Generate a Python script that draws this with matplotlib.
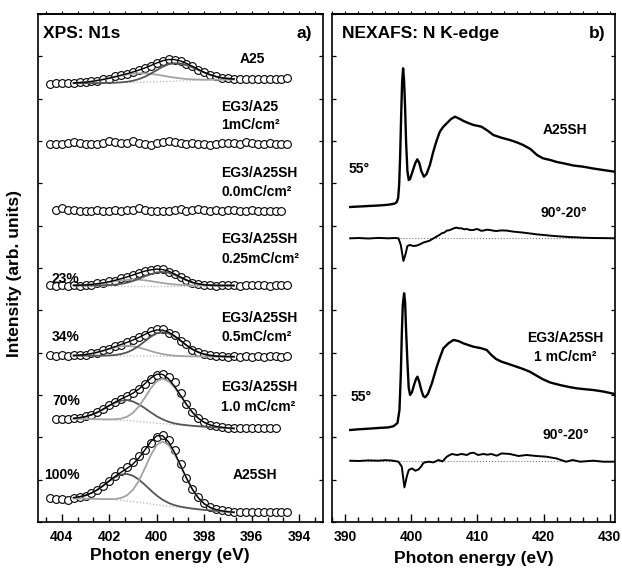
import numpy as np
import matplotlib
matplotlib.use("Agg")
import matplotlib.pyplot as plt
from matplotlib.ticker import MultipleLocator, AutoMinorLocator, NullFormatter

plt.rcParams["font.family"] = ["Liberation Sans", "DejaVu Sans"]
plt.rcParams["font.weight"] = "bold"
plt.rcParams["axes.labelweight"] = "bold"

# ---------------- XPS N1s (panel a) ----------------
# binding energies of the measured points and of the fit window (eV)
E_XPS = [404.5, 404.25, 404.0, 403.75, 403.5, 403.25, 403.0, 402.75, 402.5, 402.25,
         402.0, 401.75, 401.5, 401.25, 401.0, 400.75, 400.5, 400.25, 400.0, 399.75,
         399.5, 399.25, 399.0, 398.75, 398.5, 398.25, 398.0, 397.75, 397.5, 397.25,
         397.0, 396.75, 396.5, 396.25, 396.0, 395.75, 395.5, 395.25, 395.0, 394.75,
         394.5]
E_FIT = [403.5, 403.25, 403.0, 402.75, 402.5, 402.25, 402.0, 401.75, 401.5, 401.25,
         401.0, 400.75, 400.5, 400.25, 400.0, 399.75, 399.5, 399.25, 399.0, 398.75,
         398.5, 398.25, 398.0, 397.75, 397.5, 397.25, 397.0, 396.75]
nan = float("nan")

# measured intensities (arb. units, relative to each trace's baseline)
a25_pts = [-0.3, 0.2, 0.0, 0.5, 0.3, 1.0, 1.1, 2.2, 2.6, 4.2, 4.8, 6.9, 8.4, 9.3, 11.8,
           13.0, 15.8, 17.5, 20.6, 22.2, 24.2, 23.5, 22.8, 19.6, 17.4, 13.6, 11.3, 8.4,
           6.9, 5.2, 4.9, 4.1, 4.6, 3.9, 4.4, 4.0, 4.5, 4.1, 4.3, 4.8, 5.2]
eg3_a25_1_pts = [0.0, 0.5, -0.3, 0.8, 2.5, 0.6, -0.2, 0.4, 0.0, 1.0, 2.8, 2.2, 1.5, 0.6,
                 2.6, 1.2, 0.4, -0.6, 0.8, 2.0, 3.0, 1.6, 1.0, 0.2, 0.8, -0.4, 0.2, -1.0,
                 -0.2, 0.6, 1.5, 0.8, 0.3, 1.8, 1.0, 0.4, 0.0, 0.6, 0.2, -0.2, 0.4]
sh_00_pts = [nan, 0.6, 2.4, 1.0, 0.3, 0.0, 0.2, -0.2, 0.4, 0.1, 0.0, 0.5, -0.3, 0.3, 0.8,
             2.6, 0.5, -0.5, 0.2, -0.3, 0.0, 0.6, 2.2, -0.2, 0.5, 1.6, 0.3, 0.0, 0.4,
             -0.3, 0.6, 1.2, 0.2, -0.4, 0.3, 0.1, -0.5, -0.2, 0.0, 0.2, nan]
sh_025_pts = [0.3, -0.3, 0.6, -0.5, 0.2, -0.4, 1.0, 0.8, 2.2, 2.4, 4.2, 5.0, 7.2, 8.4,
              10.9, 12.3, 14.8, 15.5, 16.8, 16.2, 14.0, 12.0, 8.2, 5.8, 2.8, 1.9, 0.4,
              0.8, -0.2, 0.5, 0.1, 0.6, -0.2, 0.4, 1.0, 0.2, 0.7, -0.1, 0.5, 0.9, 0.4]
sh_05_pts = [1.5, 0.8, 1.2, 0.6, 1.4, 1.9, 2.0, 3.4, 4.0, 6.5, 7.6, 10.6, 12.0, 14.8, 16.2,
             19.8, 22.0, 25.5, 27.5, 28.0, 24.0, 21.5, 15.8, 12.2, 7.0, 5.0, 2.2, 1.6,
             0.3, 0.8, -0.2, 0.4, -0.3, 0.5, 0.0, 0.6, -0.2, 0.3, 0.7, 0.1, 0.5]
sh_10_pts = [nan, 9.2, 9.8, 9.4, 10.0, 10.9, 12.3, 13.9, 16.4, 19.8, 23.3, 26.8, 29.8,
             32.5, 35.6, 39.5, 44.5, 49.5, 53.0, 54.0, 51.5, 46.0, 35.0, 24.5, 16.2,
             10.4, 6.0, 3.6, 2.0, 1.2, 0.5, 0.2, 0.6, 0.0, 0.8, 0.3, 0.1, 0.5, 0.2, nan, nan]
a25sh_pts = [14.2, 13.8, 13.2, 12.4, 14.0, 15.2, 16.8, 19.0, 22.2, 26.5, 31.2, 36.4, 41.0,
             45.6, 50.8, 56.0, 62.0, 69.0, 75.0, 77.5, 72.0, 62.0, 48.5, 34.5, 23.0, 15.5,
             9.5, 5.8, 3.5, 2.0, 1.2, 0.5, 0.8, 0.3, 0.6, 0.2, 0.5, 0.0, 0.4, 0.2, 0.5]

# fit: background, high-BE component, low-BE component (on E_FIT)
a25_bg = [0.0, 0.05, 0.1, 0.15, 0.2, 0.3, 0.4, 0.5, 0.6, 0.7, 0.85, 1.0, 1.15, 1.3, 1.5,
          1.7, 1.9, 2.1, 2.35, 2.6, 2.85, 3.05, 3.25, 3.4, 3.55, 3.65, 3.75, 3.8]
a25_hi = [0.4, 0.7, 1.1, 1.7, 2.6, 3.6, 4.7, 6.0, 7.1, 8.1, 8.8, 9.0, 8.8, 8.1, 7.1, 6.0,
          4.7, 3.6, 2.6, 1.7, 1.1, 0.7, 0.4, 0.2, 0.1, 0.0, 0.0, 0.0]
a25_lo = [0, 0, 0, 0, 0, 0, 0.05, 0.1, 0.4, 0.8, 1.7, 3.2, 5.4, 8.4, 11.7, 14.9, 17.2,
          18.0, 17.4, 15.6, 13.1, 10.2, 7.4, 5.0, 3.1, 1.8, 1.0, 0.5]
sh_025_bg = [0.0] * 28
sh_025_hi = [0.17, 0.33, 0.6, 1.04, 1.65, 2.45, 3.4, 4.35, 5.2, 5.8, 6.0, 5.8, 5.2, 4.35,
             3.4, 2.45, 1.65, 1.04, 0.6, 0.33, 0.17, 0.08, 0.04, 0, 0, 0, 0, 0]
sh_025_lo = [0, 0, 0, 0, 0.1, 0.2, 0.4, 0.9, 1.6, 2.8, 4.5, 6.75, 9.2, 11.3, 13.0, 13.5,
             12.7, 10.6, 7.9, 5.2, 3.0, 1.6, 0.7, 0.3, 0.1, 0, 0, 0]
sh_05_bg = [1.0, 1.0, 1.0, 1.0, 0.95, 0.94, 0.92, 0.89, 0.85, 0.81, 0.76, 0.71, 0.66, 0.6,
            0.55, 0.49, 0.44, 0.39, 0.35, 0.31, 0.27, 0.22, 0.18, 0.15, 0.11, 0.08, 0.04, 0.01]
sh_05_hi = [0.3, 0.6, 1.2, 2.1, 3.4, 5.0, 6.8, 8.4, 9.6, 10.0, 9.6, 8.4, 6.8, 5.0, 3.4,
            2.1, 1.2, 0.6, 0.3, 0.1, 0, 0, 0, 0, 0, 0, 0, 0]
sh_05_lo = [0, 0, 0, 0, 0.1, 0.1, 0.3, 0.8, 1.8, 3.5, 6.3, 10.2, 14.8, 19.4, 22.8, 24.0,
            22.9, 19.8, 15.6, 11.1, 7.2, 4.3, 2.3, 1.1, 0.5, 0.2, 0.1, 0.0]
sh_10_bg = [9.5, 9.5, 9.45, 9.4, 9.25, 9.1, 8.9, 8.6, 8.3, 7.9, 7.4, 6.9, 6.4, 5.8, 5.3,
            4.8, 4.3, 3.8, 3.4, 3.0, 2.6, 2.2, 1.8, 1.4, 1.1, 0.7, 0.4, 0.1]
sh_10_hi = [0.6, 1.3, 2.4, 4.3, 6.9, 10.3, 13.9, 17.2, 19.6, 20.5, 19.6, 17.2, 13.9, 10.3,
            6.9, 4.3, 2.4, 1.3, 0.6, 0.3, 0.1, 0, 0, 0, 0, 0, 0, 0]
sh_10_lo = [0, 0, 0, 0, 0, 0, 0.2, 0.6, 1.6, 3.9, 8.3, 15.3, 24.5, 34.3, 42.1, 45.0, 42.9,
            37.1, 29.2, 20.9, 13.6, 8.0, 4.3, 2.1, 0.9, 0.4, 0.1, 0]
a25sh_bg = [14.0, 14.0, 13.9, 13.8, 13.6, 13.4, 13.1, 12.7, 12.2, 11.6, 10.9, 10.2, 9.4,
            8.6, 7.8, 7.0, 6.3, 5.6, 5.0, 4.4, 3.8, 3.2, 2.6, 2.1, 1.6, 1.1, 0.6, 0.2]
a25sh_hi = [0.8, 1.7, 3.2, 5.7, 9.1, 13.5, 18.3, 22.7, 25.8, 27.0, 25.8, 22.7, 18.3, 13.5,
            9.1, 5.7, 3.2, 1.7, 0.8, 0.4, 0.1, 0, 0, 0, 0, 0, 0, 0]
a25sh_lo = [0, 0, 0, 0, 0, 0, 0.3, 0.8, 2.3, 5.6, 11.8, 21.7, 34.8, 48.8, 59.8, 64.0,
            61.0, 52.8, 41.5, 29.7, 19.3, 11.4, 6.1, 2.9, 1.3, 0.5, 0.2, 0]

# ---------------- NEXAFS N K-edge (panel b) ----------------
e_a25sh_55 = [390.75, 391.5, 392.5, 393.5, 394.5, 395.5, 396.5, 397.0, 397.5, 397.8, 398.0,
              398.15, 398.3, 398.45, 398.6, 398.75, 398.9, 399.05, 399.2, 399.4, 399.6,
              399.8, 400.0, 400.3, 400.6, 400.9, 401.2, 401.5, 401.9, 402.3, 402.8, 403.3,
              403.8, 404.3, 404.8, 405.35, 406.0, 406.6, 407.2, 407.9, 408.6, 409.4,
              410.0, 410.6, 411.5, 412.4, 413.5, 414.9, 416.0, 416.9, 418.0, 419.0, 419.9,
              421.0, 422.0, 423.0, 424.5, 426.0, 427.5, 429.0, 430.75]
i_a25sh_55 = [0.0, 0.3, 0.6, 1.0, 1.3, 1.7, 2.3, 2.8, 3.5, 5.0, 9.0, 22.0, 50.0, 90.0,
              125.0, 138.7, 126.0, 100.0, 65.0, 36.0, 27.0, 28.0, 32.0, 38.0, 44.0, 47.7,
              44.0, 36.0, 30.3, 33.0, 42.0, 55.0, 66.0, 75.3, 80.0, 83.7, 88.0, 90.3, 88.5,
              86.0, 84.0, 82.0, 81.2, 80.3, 76.5, 72.0, 69.5, 67.0, 64.5, 62.0, 58.0, 52.0,
              48.7, 47.0, 45.0, 43.7, 41.5, 40.3, 38.5, 37.0, 35.3]
e_a25sh_diff = [390.75, 392.0, 393.5, 395.0, 396.5, 397.5, 398.05, 398.4, 398.8, 399.15,
                399.4, 399.8, 400.3, 400.8, 401.3, 401.8, 402.3, 402.7, 403.1, 403.5,
                403.8, 404.2, 404.6, 405.0, 405.35, 405.7, 406.1, 406.5, 406.86, 407.2,
                407.6, 408.0, 408.4, 408.9, 409.4, 409.8, 410.1, 410.5, 410.9, 411.4,
                411.9, 412.4, 412.9, 413.6, 414.4, 415.4, 416.9, 418.0, 418.9, 420.0,
                420.9, 422.0, 422.95, 424.0, 424.95, 426.0, 427.5, 429.0, 430.75]
i_a25sh_diff = [0.0, 0.3, -0.2, 0.4, 0.0, 0.3, 0.0, -6.7, -22.7, -15.0, -7.7, -6.7, -7.7,
                -7.3, -6.0, -4.3, -3.3, -2.5, -1.0, 0.6, 1.7, 3.2, 5.0, 5.8, 7.7, 8.0, 9.0,
                10.2, 10.7, 10.0, 10.0, 9.0, 9.3, 8.2, 8.3, 9.2, 9.0, 7.6, 7.7, 8.6, 8.3,
                7.6, 7.3, 7.9, 7.7, 6.7, 5.7, 4.8, 4.0, 3.3, 2.7, 2.1, 1.7, 1.2, 1.0, 0.6,
                0.3, 0.2, 0.0]
e_eg3_55 = [390.75, 392.0, 393.5, 395.0, 396.5, 397.3, 397.9, 398.2, 398.4, 398.55, 398.7,
            398.9, 399.05, 399.2, 399.4, 399.6, 399.81, 400.1, 400.4, 400.7, 400.92,
            401.2, 401.5, 401.8, 402.08, 402.5, 403.1, 403.84, 404.4, 404.84, 405.6,
            406.35, 407.1, 407.86, 408.6, 409.37, 410.0, 410.6, 411.4, 412.1, 412.8,
            413.65, 414.7, 415.9, 416.9, 417.9, 418.9, 419.9, 421.0, 422.45, 423.7,
            424.95, 426.2, 427.5, 429.0, 430.75]
i_eg3_55 = [0.0, 0.7, 1.3, 2.0, 2.6, 3.8, 7.0, 20.0, 55.0, 95.0, 125.0, 136.7, 128.0,
            100.0, 68.0, 42.0, 35.0, 38.0, 45.0, 51.0, 53.3, 48.0, 40.0, 34.0, 32.7, 36.0,
            46.7, 63.3, 74.0, 81.7, 86.7, 90.0, 89.0, 86.7, 85.0, 83.3, 82.5, 81.7, 80.0,
            75.0, 71.0, 68.3, 66.0, 63.3, 61.0, 58.3, 54.5, 50.7, 47.5, 45.0, 43.2, 41.7,
            40.8, 40.0, 38.5, 36.0]
e_eg3_diff = [390.75, 392.0, 393.5, 395.0, 396.0, 397.0, 398.05, 398.55, 398.95, 399.3,
              399.6, 400.1, 400.6, 401.1, 401.45, 401.85, 402.6, 403.35, 404.1, 404.7,
              405.35, 406.1, 406.9, 407.6, 408.4, 408.9, 409.4, 410.1, 410.9, 411.5,
              412.1, 412.9, 413.65, 414.9, 416.2, 417.4, 418.9, 420.4, 421.9, 423.4,
              424.4, 425.5, 427.5, 429.0, 430.75]
i_eg3_diff = [0.0, -0.3, 0.3, 0.0, 0.5, 0.2, -1.0, -6.0, -26.7, -16.0, -9.3, -7.7, -10.0,
              -8.7, -6.0, -2.0, -1.0, -1.7, 0.7, -0.8, 4.0, 6.7, 5.7, 6.7, 5.7, 7.5, 8.0,
              5.7, 6.7, 6.0, 6.7, 5.0, 7.3, 6.7, 4.7, 5.7, 4.7, 4.0, 2.3, -1.0, 0.7, -1.0,
              0.0, -1.0, -1.0]

DARK = "#555555"
LIGHT = "#a3a3a3"

# vertical offsets for the stacked traces
xps_points = [a25_pts, eg3_a25_1_pts, sh_00_pts, sh_025_pts, sh_05_pts, sh_10_pts, a25sh_pts]
xps_offsets = [438.7, 378.0, 311.3, 236.5, 165.3, 93.5, 9.5]
# (trace index, bg, hi, lo, colour hi, colour lo)
xps_fits = [
    (0, a25_bg, a25_hi, a25_lo, LIGHT, DARK),
    (3, sh_025_bg, sh_025_hi, sh_025_lo, LIGHT, DARK),
    (4, sh_05_bg, sh_05_hi, sh_05_lo, LIGHT, DARK),
    (5, sh_10_bg, sh_10_hi, sh_10_lo, DARK, LIGHT),
    (6, a25sh_bg, a25sh_hi, a25sh_lo, DARK, LIGHT),
]


def style_axes(ax, major, minor):
    for s in ax.spines.values():
        s.set_linewidth(1.2)
    ax.set_ylim(0, 508)
    ax.xaxis.set_major_locator(MultipleLocator(major))
    ax.xaxis.set_minor_locator(minor)
    ax.yaxis.set_major_locator(MultipleLocator(42.33))
    ax.tick_params(axis="x", which="major", direction="in", length=6, width=1.0,
                   labelsize=10, pad=6)
    ax.tick_params(axis="x", which="minor", direction="in", length=3.5, width=1.0)
    ax.tick_params(axis="y", which="major", direction="in", length=3, width=0.9,
                   left=True, right=True, labelleft=False)
    top = ax.secondary_xaxis("top")
    top.xaxis.set_major_locator(MultipleLocator(major))
    top.xaxis.set_minor_locator(minor)
    top.xaxis.set_major_formatter(NullFormatter())
    top.tick_params(which="both", direction="out", length=2.5, width=0.8)
    top.spines["top"].set_linewidth(1.2)
    ax.set_xlabel("Photon energy (eV)", fontsize=12.5, labelpad=5)


fig = plt.figure(figsize=(6.22, 5.74), dpi=100)
ax1 = fig.add_axes([0.0611, 0.0906, 0.4582, 0.8850])
ax2 = fig.add_axes([0.5338, 0.0906, 0.4550, 0.8850])

# ---- panel a ----
ax1.set_xlim(405, 393)
style_axes(ax1, 2, AutoMinorLocator(3))
ax1.xaxis.set_label_coords(0.463, -0.052)
e = np.array(E_XPS)
ef = np.array(E_FIT)
for pts, off in zip(xps_points, xps_offsets):
    ax1.plot(e, np.array(pts) + off, "o", ms=5.6, mfc="white", mec="black", mew=0.8,
             zorder=2)
for idx, bg, hi, lo, c_hi, c_lo in xps_fits:
    off = xps_offsets[idx]
    bg = np.array(bg) + off
    hi = np.array(hi)
    lo = np.array(lo)
    ax1.plot(ef, bg, ls=":", color="#b5b5b5", lw=0.9, zorder=3)
    ax1.plot(ef, bg + hi, color=c_hi, lw=1.3, zorder=3)
    ax1.plot(ef, bg + lo, color=c_lo, lw=1.3, zorder=3)
    ax1.plot(ef, bg + hi + lo, color="black", lw=1.0, zorder=4)

ax1.text(0.018, 0.952, "XPS: N1s", transform=ax1.transAxes, fontsize=12.5)
ax1.text(0.962, 0.952, "a)", transform=ax1.transAxes, fontsize=12.5, ha="right")
lbl = dict(fontsize=10)
ax1.text(395.98, 459, "A25", ha="center", **lbl)
ax1.text(397.28, 411, "EG3/A25", **lbl)
ax1.text(397.28, 393, "1mC/cm²", **lbl)
ax1.text(397.28, 345, "EG3/A25SH", **lbl)
ax1.text(397.28, 326, "0.0mC/cm²", **lbl)
ax1.text(397.28, 279.5, "EG3/A25SH", **lbl)
ax1.text(397.28, 259.5, "0.25mC/cm²", **lbl)
ax1.text(397.28, 199.5, "EG3/A25SH", **lbl)
ax1.text(397.28, 181, "0.5mC/cm²", **lbl)
ax1.text(397.28, 131, "EG3/A25SH", **lbl)
ax1.text(397.28, 111, "1.0 mC/cm²", **lbl)
ax1.text(395.85, 43, "A25SH", ha="center", **lbl)
ax1.text(404.43, 239, "23%", **lbl)
ax1.text(404.43, 181, "34%", **lbl)
ax1.text(404.39, 117, "70%", **lbl)
ax1.text(404.73, 43, "100%", **lbl)
ax1.set_ylabel("Intensity (arb. units)", fontsize=12.5)
ax1.yaxis.set_label_coords(-0.055, 0.489)

# ---- panel b ----
ax2.set_xlim(388, 430.8)
style_axes(ax2, 10, MultipleLocator(2))
nexafs = [
    (e_a25sh_55, i_a25sh_55, 315.0, 1.7, False),
    (e_a25sh_diff, i_a25sh_diff, 283.7, 1.4, True),
    (e_eg3_55, i_eg3_55, 92.0, 1.7, False),
    (e_eg3_diff, i_eg3_diff, 61.3, 1.4, True),
]
for ex, iy, off, lw, zero in nexafs:
    ex = np.array(ex)
    ax2.plot(ex, np.array(iy) + off, color="black", lw=lw, zorder=3)
    if zero:
        ax2.plot([ex[0], ex[-1]], [off, off], ls=":", color="#777777", lw=0.8, zorder=2)

ax2.text(0.035, 0.952, "NEXAFS: N K-edge", transform=ax2.transAxes, fontsize=12.5)
ax2.text(0.965, 0.952, "b)", transform=ax2.transAxes, fontsize=12.5, ha="right")
ax2.text(423.2, 388, "A25SH", ha="center", **lbl)
ax2.text(390.45, 349, "55°", **lbl)
ax2.text(423.06, 305, "90°-20°", ha="center", **lbl)
ax2.text(423.2, 179.5, "EG3/A25SH", ha="center", **lbl)
ax2.text(423.3, 161, "1 mC/cm²", ha="center", **lbl)
ax2.text(390.75, 121, "55°", **lbl)
ax2.text(423.36, 83, "90°-20°", ha="center", **lbl)

fig.savefig("out.png", dpi=100)
